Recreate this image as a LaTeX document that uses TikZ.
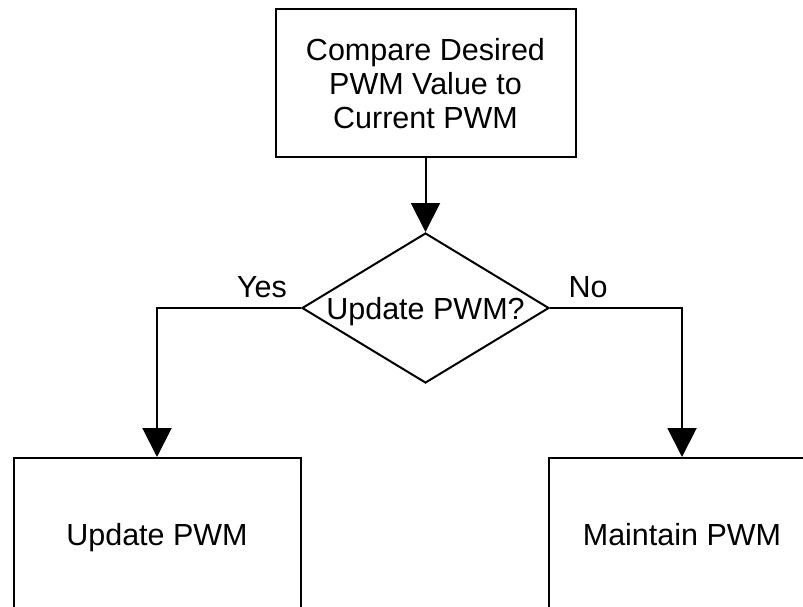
\documentclass[tikz,border=0pt]{standalone}
\usepackage{fontspec}
\setmainfont{Liberation Sans}
\usetikzlibrary{arrows.meta,shapes.geometric}

\begin{document}
\begin{tikzpicture}[x=1pt,y=-1pt,
  every node/.style={font=\fontsize{30.5}{34}\selectfont, text=black},
  procbox/.style={draw, line width=2pt, inner sep=0pt, align=center, text depth=0pt},
  decision/.style={draw, diamond, line width=2pt, inner sep=0pt, aspect=1.65,
    text depth=0pt, minimum width=247pt, minimum height=150pt},
  flow/.style={line width=2pt, -{Triangle[width=29pt,length=29pt]}},
  branchlabel/.style={inner sep=0pt}
]
  \useasboundingbox (0,0) rectangle (803,607);
  \clip (0,0) rectangle (803,607);

  % process steps and the decision
  \node[procbox, minimum width=300pt, minimum height=148pt] (cmp) at (425.5,83)
    {Compare Desired\\PWM Value to\\Current PWM};
  \node[decision] (dec) at (425.5,308) {Update PWM?};
  \node[procbox, minimum width=287pt, minimum height=152pt] (upd) at (157,534)
    {Update PWM};
  \node[procbox, minimum width=266pt, minimum height=152pt] (keep) at (682,534)
    {Maintain PWM};

  % connectors
  \draw[flow] (cmp.south) -- (dec.north);
  \draw[flow] (dec.west) -| (upd.north);
  \draw[flow] (dec.east) -| (keep.north);

  % branch labels
  \node[branchlabel] (yes) at (262,287) {Yes};
  \node[branchlabel] (no) at (588,287) {No};
\end{tikzpicture}
\end{document}
